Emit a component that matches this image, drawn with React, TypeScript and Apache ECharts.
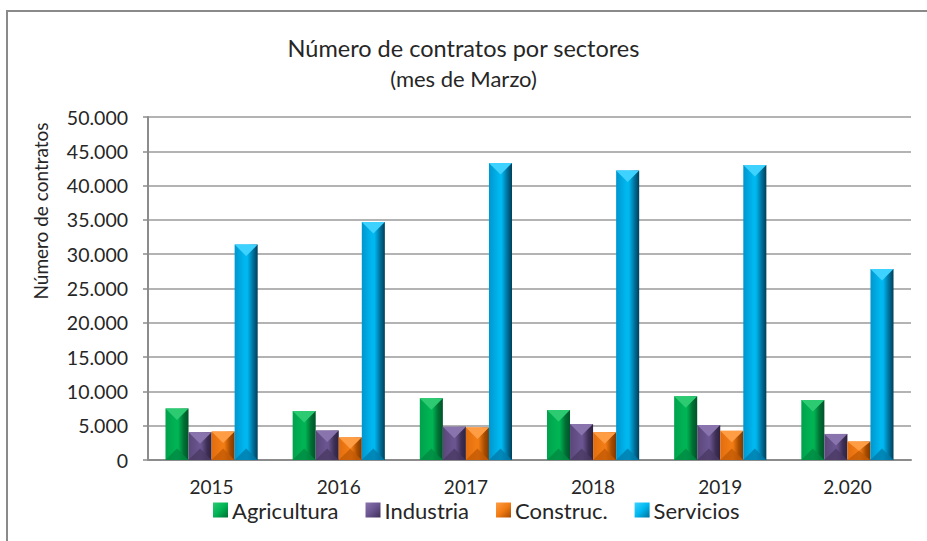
import React, { useEffect, useRef } from "react";
import * as echarts from "echarts";

const years = ["2015", "2016", "2017", "2018", "2019", "2.020"];
const seriesNames = ["Agricultura", "Industria", "Construc.", "Servicios"];
const agricultura = [7500, 7150, 9000, 7300, 9300, 8750];
const industria = [4050, 4300, 4850, 5250, 5100, 3800];
const construc = [4150, 3300, 4750, 4050, 4250, 2700];
const servicios = [31400, 34700, 43300, 42200, 43000, 27850];
const yTicks = [0, 50000, 5000];

const palettes = [
  { left: "#00a24c", mid: "#00b454", right: "#006f33", edge: "#00542a", top: "#2ccb72", bottom: "#008a42" },
  { left: "#5a4778", mid: "#6a5590", right: "#3e2f55", edge: "#2e2240", top: "#8a74ad", bottom: "#4a3a63" },
  { left: "#e26d0e", mid: "#f27c14", right: "#a84c00", edge: "#7e3900", top: "#ff9d45", bottom: "#c25a05" },
  { left: "#0096cf", mid: "#00b8f0", right: "#00709c", edge: "#003f58", top: "#3dd2ff", bottom: "#007cab" },
];

const fmt = (v: number) => String(v).replace(/\B(?=(\d{3})+(?!\d))/g, ".");
const FONT = "Lato, 'Open Sans', sans-serif";

export default function App() {
  const ref = useRef<HTMLDivElement>(null);
  useEffect(() => {
    if (!ref.current) return;
    const chart = echarts.init(ref.current, undefined, { renderer: "svg" });
    const allValues = [agricultura, industria, construc, servicios];
    const series = allValues.map((vals, si) => {
      const p = palettes[si];
      return {
        type: "custom",
        name: seriesNames[si],
        itemStyle: {
          color: new echarts.graphic.LinearGradient(0, 0, 1, 1, [
            { offset: 0, color: p.top },
            { offset: 0.5, color: p.mid },
            { offset: 1, color: p.right },
          ]),
        },
        data: vals.map((v, i) => [i, v]),
        renderItem: (params: any, api: any) => {
          const idx = api.value(0);
          const val = api.value(1);
          const catW = api.size([1, 0])[0];
          const barW = (catW * 0.725) / 4;
          const c = api.coord([idx, val]);
          const b = api.coord([idx, 0]);
          const x0 = c[0] + (params.seriesIndex - 2) * barW;
          const x1 = x0 + barW;
          const yt = c[1];
          const yb = b[1];
          const h = yb - yt;
          const d = Math.min(barW / 2, h / 2);
          const xm = (x0 + x1) / 2;
          return {
            type: "group",
            children: [
              {
                type: "rect",
                shape: { x: x0, y: yt, width: barW, height: h },
                style: {
                  fill: new echarts.graphic.LinearGradient(0, 0, 1, 0, [
                    { offset: 0, color: p.left },
                    { offset: 0.45, color: p.mid },
                    { offset: 0.55, color: p.mid },
                    { offset: 0.8, color: p.right },
                    { offset: 1, color: p.edge },
                  ]),
                },
              },
              {
                type: "polygon",
                shape: { points: [[x0, yt], [x1, yt], [xm, yt + d]] },
                style: { fill: p.top },
              },
              {
                type: "polygon",
                shape: { points: [[x0, yb], [x1, yb], [xm, yb - d]] },
                style: { fill: p.bottom, opacity: 0.8 },
              },
            ],
          };
        },
      };
    });

    chart.setOption({
      animation: false,
      backgroundColor: "#ffffff",
      title: {
        text: "Número de contratos por sectores",
        subtext: "(mes de Marzo)",
        left: "center",
        top: 31,
        itemGap: 7,
        textStyle: { fontFamily: FONT, fontSize: 23.5, fontWeight: "normal", color: "#262626" },
        subtextStyle: { fontFamily: FONT, fontSize: 22, color: "#262626" },
      },
      legend: {
        left: 213,
        top: 499,
        padding: 0,
        icon: "rect",
        itemWidth: 15,
        itemHeight: 15,
        itemGap: 27,
        textStyle: { fontFamily: FONT, fontSize: 22, lineHeight: 16, color: "#262626", padding: [0, 0, 0, -1] },
        data: seriesNames,
      },
      grid: { left: 148, right: 16, top: 117, bottom: 81 },
      xAxis: {
        type: "category",
        data: years,
        axisLine: { lineStyle: { color: "#8c8c8c", width: 2 } },
        axisTick: { show: false },
        axisLabel: { fontFamily: FONT, fontSize: 19, lineHeight: 18, color: "#262626", margin: 17 },
      },
      yAxis: {
        type: "value",
        min: yTicks[0],
        max: yTicks[1],
        interval: yTicks[2],
        axisLine: { show: true, lineStyle: { color: "#8c8c8c", width: 2 } },
        axisTick: { show: true, length: 5, lineStyle: { color: "#8c8c8c", width: 1.5 } },
        splitLine: { lineStyle: { color: "#9a9a9a", width: 1.5 } },
        axisLabel: { fontFamily: FONT, fontSize: 19.5, color: "#262626", margin: 20, formatter: (v: number) => fmt(v) },
      },
      graphic: [
        {
          type: "rect",
          shape: { x: 7, y: 11, width: 960, height: 560 },
          style: { fill: "none", stroke: "#8a8a8a", lineWidth: 2 },
          silent: true,
        },
        {
          type: "text",
          x: 40,
          y: 211,
          rotation: Math.PI / 2,
          style: {
            text: "Número de contratos",
            fontFamily: FONT,
            fontSize: 19,
            fill: "#262626",
            textAlign: "center",
            textVerticalAlign: "middle",
          },
        },
      ],
      series,
    });
    return () => chart.dispose();
  }, []);
  return <div ref={ref} style={{ position: "fixed", left: 0, top: 0, width: 927, height: 541 }} />;
}
